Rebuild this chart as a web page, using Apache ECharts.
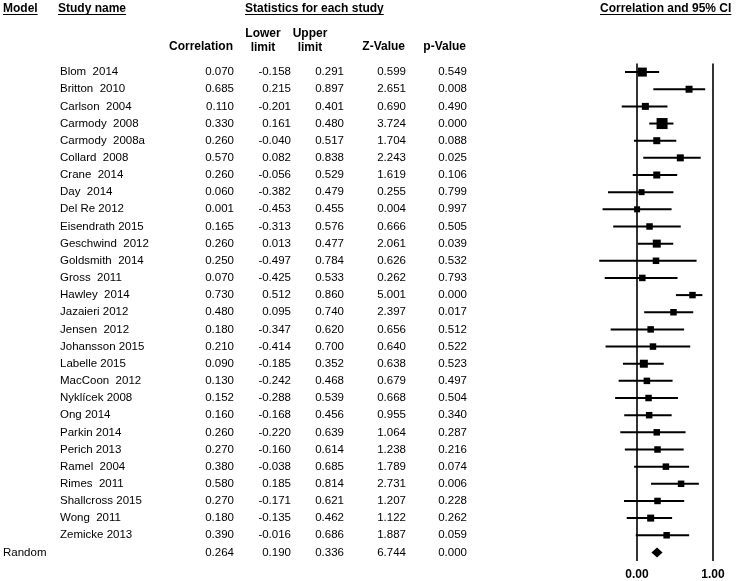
<!DOCTYPE html>
<html><head><meta charset="utf-8">
<script src="https://cdn.jsdelivr.net/npm/echarts@6/dist/echarts.min.js"></script>
<style>html,body{margin:0;padding:0;background:#fff}#c{width:740px;height:581px}</style>
</head><body><div id="c"></div>
<script>
// ---- data ----
const studyNames = ["Blom  2014","Britton  2010","Carlson  2004","Carmody  2008","Carmody  2008a","Collard  2008","Crane  2014","Day  2014","Del Re 2012","Eisendrath 2015","Geschwind  2012","Goldsmith  2014","Gross  2011","Hawley  2014","Jazaieri 2012","Jensen  2012","Johansson 2015","Labelle 2015","MacCoon  2012","Nyklícek 2008","Ong 2014","Parkin 2014","Perich 2013","Ramel  2004","Rimes  2011","Shallcross 2015","Wong  2011","Zemicke 2013"];
const correlation = [0.070,0.685,0.110,0.330,0.260,0.570,0.260,0.060,0.001,0.165,0.260,0.250,0.070,0.730,0.480,0.180,0.210,0.090,0.130,0.152,0.160,0.260,0.270,0.380,0.580,0.270,0.180,0.390];
const lowerLimit = [-0.158,0.215,-0.201,0.161,-0.040,0.082,-0.056,-0.382,-0.453,-0.313,0.013,-0.497,-0.425,0.512,0.095,-0.347,-0.414,-0.185,-0.242,-0.288,-0.168,-0.220,-0.160,-0.038,0.185,-0.171,-0.135,-0.016];
const upperLimit = [0.291,0.897,0.401,0.480,0.517,0.838,0.529,0.479,0.455,0.576,0.477,0.784,0.533,0.860,0.740,0.620,0.700,0.352,0.468,0.539,0.456,0.639,0.614,0.685,0.814,0.621,0.462,0.686];
const zValue = [0.599,2.651,0.690,3.724,1.704,2.243,1.619,0.255,0.004,0.666,2.061,0.626,0.262,5.001,2.397,0.656,0.640,0.638,0.679,0.668,0.955,1.064,1.238,1.789,2.731,1.207,1.122,1.887];
const pValue = [0.549,0.008,0.490,0.000,0.088,0.025,0.106,0.799,0.997,0.505,0.039,0.532,0.793,0.000,0.017,0.512,0.522,0.523,0.497,0.504,0.340,0.287,0.216,0.074,0.006,0.228,0.262,0.059];
const modelName = "Random";
const randomCorrelation = 0.264, randomLower = 0.190, randomUpper = 0.336, randomZ = 6.744, randomP = 0.000;
const tickLabels = {"0": "0.00", "1": "1.00"};

// ---- style (box sizes in px, not data) ----
const boxPx = [9,7,7,11,7,7,7,6,6,6.5,8,6.5,6.5,6.5,6.5,6.5,6.5,8,6.5,6.5,6.5,6.5,6.5,6.5,6.5,6.5,7,6.5];

const nRows = studyNames.length + 1;
const rows = Array.from({length:nRows},(_,i)=>String(i));
const f3 = v => v.toFixed(3);
const colCorr = correlation.map(f3).concat(f3(randomCorrelation));
const colLow = lowerLimit.map(f3).concat(f3(randomLower));
const colUp = upperLimit.map(f3).concat(f3(randomUpper));
const colZ = zValue.map(f3).concat(f3(randomZ));
const colP = pValue.map(f3).concat(f3(randomP));
const colName = studyNames.concat("");
const colModel = studyNames.map(()=> "").concat(modelName);

const FONT = 'Liberation Sans, Arial, sans-serif';
const GRID_LEFT = 560;
function textAxis(labels, rightEdge, align){
  return {type:'category', data: rows, inverse:true, position:'left', gridIndex:0,
    offset: GRID_LEFT - rightEdge, axisLine:{show:false}, axisTick:{show:false}, splitLine:{show:false},
    axisLabel:{interval:0, margin:0, align: align||'right', color:'#000', fontFamily:FONT, fontSize:11.5,
      formatter:(v,i)=>labels[i]}};
}

const hdr = {fontFamily:FONT, fontWeight:'bold', fontSize:12, fill:'#000'};
const mctx = document.createElement('canvas').getContext('2d');
mctx.font = 'bold 12px Liberation Sans, Arial, sans-serif';
const topHeaders = [['Model',3],['Study name',58],['Statistics for each study',245],['Correlation and 95% CI',600]];
const headerGraphics = [];
topHeaders.forEach(([t,x])=>{
  headerGraphics.push({type:'text', x:x, y:3, style:Object.assign({text:t},hdr)});
  const w = mctx.measureText(t).width;
  headerGraphics.push({type:'line', shape:{x1:x,y1:14.5,x2:x+w,y2:14.5}, style:{stroke:'#000', lineWidth:1}});
});

const chart = echarts.init(document.getElementById('c'), null, {renderer:'canvas'});
chart.setOption({
  animation:false,
  grid:{left:GRID_LEFT, right:27, top:63.5, bottom:19},
  xAxis:{type:'value', min:-1, max:1, interval:1,
    axisLine:{show:false}, axisTick:{show:false}, splitLine:{show:false},
    axisLabel:{margin:8, color:'#000', fontFamily:FONT, fontWeight:'bold', fontSize:12,
      formatter:v=> tickLabels[String(v)] || ''}},
  yAxis:[
    {type:'category', data:rows, inverse:true, show:false},
    textAxis(colModel, 2, 'left'),
    textAxis(colName, 59, 'left'),
    textAxis(colCorr, 233),
    textAxis(colLow, 290),
    textAxis(colUp, 343),
    textAxis(colZ, 405),
    textAxis(colP, 466)
  ],
  graphic: headerGraphics.concat([
    {type:'text', x:233, y:41, style:Object.assign({text:'Correlation', align:'right'},hdr)},
    {type:'text', x:263, y:27, style:Object.assign({text:'Lower\nlimit', align:'center', lineHeight:14},hdr)},
    {type:'text', x:310, y:27, style:Object.assign({text:'Upper\nlimit', align:'center', lineHeight:14},hdr)},
    {type:'text', x:405, y:41, style:Object.assign({text:'Z-Value', align:'right'},hdr)},
    {type:'text', x:466, y:41, style:Object.assign({text:'p-Value', align:'right'},hdr)}
  ]),
  series:[
    {type:'custom', xAxisIndex:0, yAxisIndex:0,
      data: lowerLimit.map((l,i)=>[l, upperLimit[i], i]),
      renderItem:(params, api)=>{
        const a = api.coord([api.value(0), api.value(2)]);
        const b = api.coord([api.value(1), api.value(2)]);
        return {type:'line', shape:{x1:a[0],y1:a[1],x2:b[0],y2:b[1]}, style:{stroke:'#000', lineWidth:2}};
      },
      markLine:{silent:true, symbol:'none', label:{show:false},
        lineStyle:{color:'#000', width:1.6, type:'solid'},
        data:[{xAxis:0},{xAxis:1}]}
    },
    {type:'scatter', xAxisIndex:0, yAxisIndex:0, symbol:'rect',
      data: correlation.map((c,i)=>[c, i]),
      symbolSize:(v,p)=>boxPx[p.dataIndex],
      itemStyle:{color:'#000', opacity:1}},
    {type:'custom', xAxisIndex:0, yAxisIndex:0,
      data:[[randomLower, randomUpper, nRows-1, randomCorrelation]],
      renderItem:(params, api)=>{
        const l = api.coord([api.value(0), api.value(2)]);
        const r = api.coord([api.value(1), api.value(2)]);
        const c = api.coord([api.value(3), api.value(2)]);
        const h = 5;
        return {type:'polygon', shape:{points:[[l[0],c[1]],[c[0],c[1]-h],[r[0],c[1]],[c[0],c[1]+h]]}, style:{fill:'#000'}};
      }}
  ]
});
</script>
</body></html>
